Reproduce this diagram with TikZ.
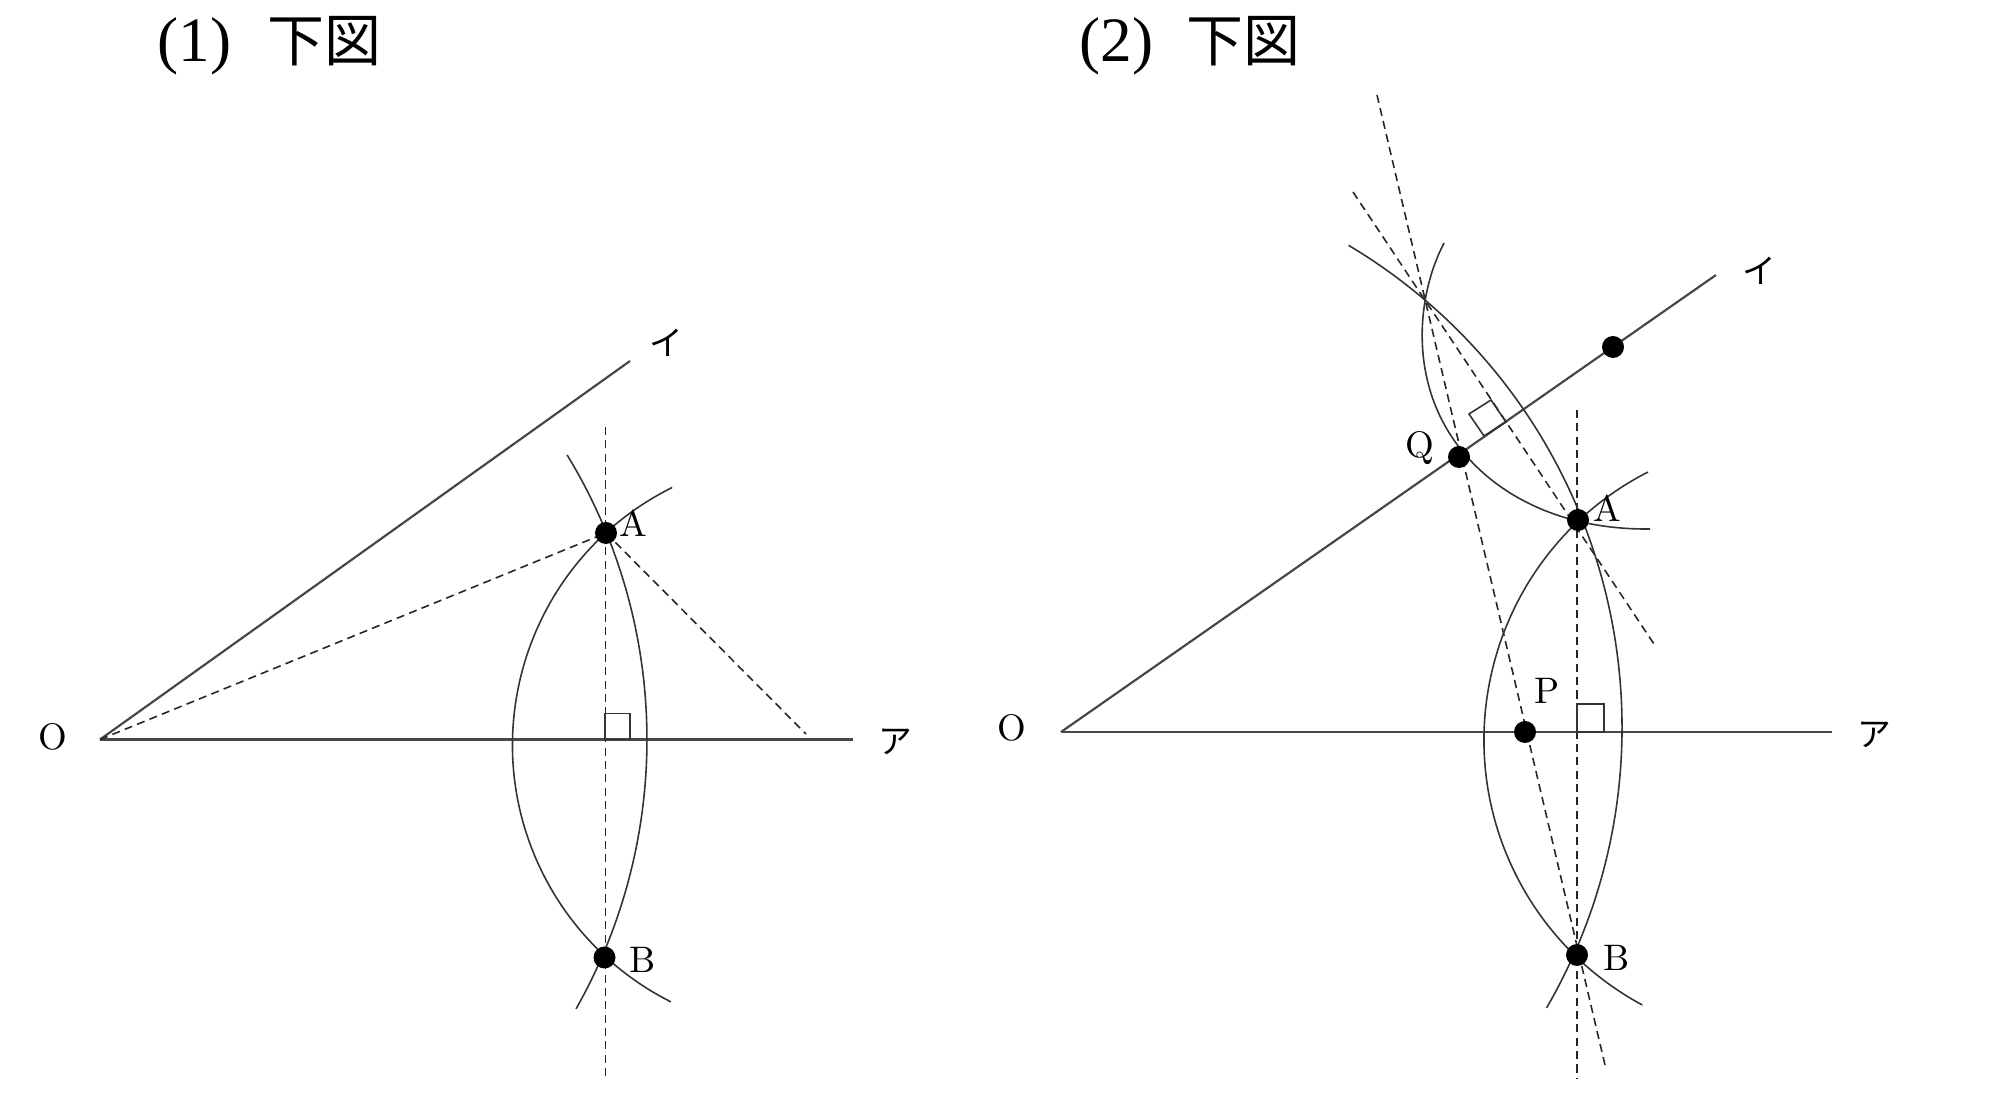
\documentclass[tikz,border=0pt]{standalone}
\usepackage{fontspec}
\newfontfamily\cjk{Noto Sans CJK JP}
\newfontfamily\numfont{Liberation Serif}
\begin{document}
\begin{tikzpicture}[
	mainline/.style={black!72,line width=0.62pt},
	arcline/.style={black!80,line width=0.45pt},
	dashline/.style={black!85,line width=0.45pt,dash pattern=on 2.3pt off 1.5pt},
	anglebox/.style={black!80,line width=0.45pt},
	dotnode/.style={circle,fill=black,inner sep=0pt,minimum size=0.22cm},
	lbl/.style={font=\fontsize{10.5}{12}\selectfont,inner sep=0pt},
	kana/.style={font=\cjk\fontsize{9.6}{12}\selectfont,inner sep=0pt},
	titletext/.style={anchor=base west,inner sep=0pt,font=\numfont\fontsize{18}{20}\selectfont},
]
	\useasboundingbox (0,0) rectangle (19.99,11.02);

	\node[titletext] (title1) at (1.57,10.40) {(1)\hspace{0.36cm}{\cjk\fontsize{16.2}{18}\selectfont 下図}};
	\node[titletext] (title2) at (10.79,10.40) {(2)\hspace{0.33cm}{\cjk\fontsize{16.2}{18}\selectfont 下図}};

	% (1)
	\coordinate (O1) at (1.00,3.625);
	\coordinate (end1a) at (8.53,3.625);
	\coordinate (end1i) at (6.30,7.41);
	\coordinate (K1) at (8.00,3.57);
	\coordinate (top1) at (6.055,6.75);
	\coordinate (bot1) at (6.055,0.236);
	\coordinate (foot1) at (8.06,3.68);
	\coordinate (A1) at (6.06,5.69);
	\coordinate (B1) at (6.045,1.445);

	\draw[mainline] (O1) -- (end1a);
	\draw[mainline] (O1) -- (end1i);
	\draw[dashline] (top1) -- (bot1);
	\draw[dashline] (O1) -- (A1);
	\draw[dashline] (A1) -- (foot1);
	\draw[arcline] (O1) ++(31.35:5.47) arc[start angle=31.35,end angle=-29.5,radius=5.47];
	\draw[arcline] (K1) ++(116.4:2.875) arc[start angle=116.4,end angle=243.3,radius=2.875];
	\draw[anglebox] (6.05,3.625) rectangle (6.30,3.885);

	\node[dotnode] (dotA1) at (A1) {};
	\node[dotnode] (dotB1) at (B1) {};

	\node[lbl] (lblO1) at (0.53,3.65) {O};
	\node[lbl] (lblA1) at (6.33,5.79) {A};
	\node[lbl] (lblB1) at (6.43,1.42) {B};
	\node[kana] (lblX1) at (8.95,3.60) {ア};
	\node[kana] (lblY1) at (6.66,7.59) {イ};

	% (2)
	\coordinate (O2) at (10.61,3.70);
	\coordinate (end2a) at (18.32,3.70);
	\coordinate (end2i) at (17.16,8.27);
	\coordinate (K2) at (17.85,3.62);
	\coordinate (K3) at (10.61,3.75);
	\coordinate (top2) at (15.77,6.92);
	\coordinate (bot2) at (15.77,0.23);
	\coordinate (d1top) at (13.77,10.07);
	\coordinate (d1bot) at (16.05,0.37);
	\coordinate (d2top) at (13.53,9.10);
	\coordinate (d2bot) at (16.54,4.58);
	\coordinate (A2) at (15.78,5.82);
	\coordinate (B2) at (15.77,1.47);
	\coordinate (P) at (15.25,3.70);
	\coordinate (Q) at (14.59,6.45);
	\coordinate (R) at (16.13,7.55);

	\draw[mainline] (O2) -- (end2a);
	\draw[mainline] (O2) -- (end2i);
	\draw[dashline] (top2) -- (bot2);
	\draw[dashline] (d1top) -- (d1bot);
	\draw[dashline] (d2top) -- (d2bot);
	\draw[arcline] (K3) ++(59.16:5.61) arc[start angle=59.16,end angle=-30.05,radius=5.61];
	\draw[arcline] (K2) ++(117.1:3.01) arc[start angle=117.1,end angle=241.7,radius=3.01];
	\draw[arcline] (14.44,8.59) .. controls (14.16,8.05) and (14.09,7.2) .. (14.59,6.55) .. controls (14.95,6.08) and (15.6,5.72) .. (16.50,5.73);
	\draw[anglebox] (15.77,3.70) rectangle (16.04,3.98);
	\draw[anglebox] (14.69,6.88) -- (14.91,7.02) -- (15.06,6.80) -- (14.84,6.66) -- cycle;

	\node[dotnode] (dotA2) at (A2) {};
	\node[dotnode] (dotB2) at (B2) {};
	\node[dotnode] (dotP) at (P) {};
	\node[dotnode] (dotQ) at (Q) {};
	\node[dotnode] (dotR) at (R) {};

	\node[lbl] (lblO2) at (10.12,3.74) {O};
	\node[lbl] (lblA2) at (16.07,5.94) {A};
	\node[lbl] (lblB2) at (16.17,1.445) {B};
	\node[lbl] (lblP) at (15.47,4.11) {P};
	\node[lbl] (lblQ) at (14.20,6.54) {Q};
	\node[kana] (lblX2) at (18.74,3.67) {ア};
	\node[kana] (lblY2) at (17.59,8.31) {イ};
\end{tikzpicture}
\end{document}
